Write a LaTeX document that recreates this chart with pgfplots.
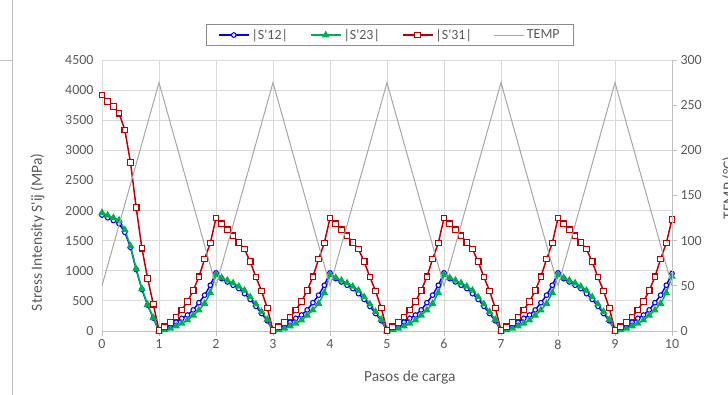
\documentclass[border=0pt]{standalone}
\usepackage{pgfplots}
\usepackage{pgfplotstable}
\pgfplotsset{compat=1.18}
\usepackage{fontspec}
\setmainfont{Carlito}[Ligatures=TeXOff]
\definecolor{tickc}{HTML}{595959}
\definecolor{gridc}{HTML}{D9D9D9}
\definecolor{sblue}{HTML}{0000FF}
\definecolor{sgreen}{HTML}{00B050}
\definecolor{sred}{HTML}{C00000}
\definecolor{tgray}{HTML}{A6A6A6}

\pgfplotstableread{
x red blue green
0.0 3920 1925 1964
0.1 3810 1880 1920
0.2 3730 1835 1880
0.3 3616 1780 1840
0.4 3340 1640 1680
0.5 2800 1390 1410
0.6 2050 1020 1030
0.7 1375 690 700
0.8 875 430 440
0.9 445 215 220
1.0 10 5 0
1.1 70 45 18
1.2 140 90 45
1.3 230 145 80
1.4 350 210 125
1.5 490 265 180
1.6 670 350 260
1.7 900 470 345
1.8 1195 595 455
1.9 1460 760 635
2.0 1875 965 930
2.1 1780 870 885
2.2 1680 815 840
2.3 1580 760 795
2.4 1470 705 740
2.5 1360 620 675
2.6 1150 525 565
2.7 895 410 445
2.8 665 290 320
2.9 380 170 190
3.0 10 5 0
3.1 70 45 18
3.2 140 90 45
3.3 230 145 80
3.4 350 210 125
3.5 490 265 180
3.6 670 350 260
3.7 900 470 345
3.8 1195 595 455
3.9 1460 760 635
4.0 1875 965 930
4.1 1780 870 885
4.2 1680 815 840
4.3 1580 760 795
4.4 1470 705 740
4.5 1360 620 675
4.6 1150 525 565
4.7 895 410 445
4.8 665 290 320
4.9 380 170 190
5.0 10 5 0
5.1 70 45 18
5.2 140 90 45
5.3 230 145 80
5.4 350 210 125
5.5 490 265 180
5.6 670 350 260
5.7 900 470 345
5.8 1195 595 455
5.9 1460 760 635
6.0 1875 965 930
6.1 1780 870 885
6.2 1680 815 840
6.3 1580 760 795
6.4 1470 705 740
6.5 1360 620 675
6.6 1150 525 565
6.7 895 410 445
6.8 665 290 320
6.9 380 170 190
7.0 10 5 0
7.1 70 45 18
7.2 140 90 45
7.3 230 145 80
7.4 350 210 125
7.5 490 265 180
7.6 670 350 260
7.7 900 470 345
7.8 1195 595 455
7.9 1460 760 635
8.0 1875 965 930
8.1 1780 870 885
8.2 1680 815 840
8.3 1580 760 795
8.4 1470 705 740
8.5 1360 620 675
8.6 1150 525 565
8.7 895 410 445
8.8 665 290 320
8.9 380 170 190
9.0 10 5 0
9.1 70 45 18
9.2 140 90 45
9.3 230 145 80
9.4 350 210 125
9.5 490 265 180
9.6 670 350 260
9.7 900 470 345
9.8 1195 595 455
9.9 1460 760 635
10.0 1855 955 905
}\stress

\pgfplotsset{
  common/.style={
    at={(102bp,64bp)}, anchor=south west, scale only axis,
    width=570bp, height=271bp, xmin=0, xmax=10,
    /pgf/number format/assume math mode=true,
    /pgf/number format/1000 sep={},
    tick label style={font=\fontsize{14}{16}\selectfont, text=tickc},
    label style={font=\fontsize{15.5}{18}\selectfont, text=tickc},
    major tick length=5bp, tick align=outside,
  }
}

\begin{document}
\begin{tikzpicture}
\clip (0,0) rectangle (728bp,395bp);
\draw[black!25, line width=0.8bp] (12.5bp,0) -- (12.5bp,395bp);
\draw[black!25, line width=0.8bp] (0,335bp) -- (12.5bp,335bp);
\begin{axis}[common,
  ymin=0, ymax=4500,
  xtick={0,...,10}, ytick={0,500,...,4500},
  grid=major, major grid style={draw=gridc, line width=0.8bp},
  axis x line*=bottom, axis y line*=left,
  x axis line style={draw=black!25, line width=0.8bp, -},
  y axis line style={draw=gridc, line width=0.8bp, -},
  xtick style={draw=black!25, line width=0.8bp},
  ytick style={draw=none},
  xlabel={Pasos de carga},
  ylabel={Stress Intensity S'ij (MPa)},
  xlabel style={at={(axis description cs:0.540,-0.170)}, anchor=center},
  ylabel style={at={(axis description cs:-0.113,0.364)}, anchor=center},
  legend columns=4,
  legend style={at={(axis description cs:0.505,1.092)}, anchor=center,
    draw=black!45, fill=white, line width=0.8bp,
    font=\fontsize{14}{16}\selectfont, text=tickc,
    inner xsep=12bp, inner ysep=3bp,
    /tikz/every even column/.append style={column sep=20bp}},
  legend image code/.code={\draw[mark repeat=2,mark phase=2,#1] plot coordinates {(0bp,0bp)(15bp,0bp)(30bp,0bp)};},
]
\addplot[sblue, line width=1.5bp, mark=*, mark size=2.3bp, mark options={fill=white, line width=1.1bp}] table[x=x,y=blue]{\stress};
\addlegendentry{|S'12|}
\addplot[sgreen, line width=1.5bp, mark=triangle*, mark size=3bp, mark options={fill=sgreen}] table[x=x,y=green]{\stress};
\addlegendentry{|S'23|}
\addplot[sred, line width=1.5bp, mark=square*, mark size=2.8bp, mark options={fill=white, line width=1.1bp}] table[x=x,y=red]{\stress};
\addlegendentry{|S'31|}
\addlegendimage{tgray, line width=1bp, no markers}
\addlegendentry{TEMP}
\end{axis}
\begin{axis}[common,
  ymin=0, ymax=300, ytick={0,50,...,300},
  axis x line=none, axis y line*=right,
  y axis line style={draw=black!25, line width=0.8bp, -},
  ytick style={draw=black!25, line width=0.8bp},
  ylabel={TEMP (°C)},
  ylabel style={at={(axis description cs:1.100,0.528)}, anchor=center},
]
\addplot[tgray, line width=1bp] coordinates {(0,50)(1,275)(2,50)(3,275)(4,50)(5,275)(6,50)(7,275)(8,50)(9,275)(10,50)};
\end{axis}
\end{tikzpicture}
\end{document}
